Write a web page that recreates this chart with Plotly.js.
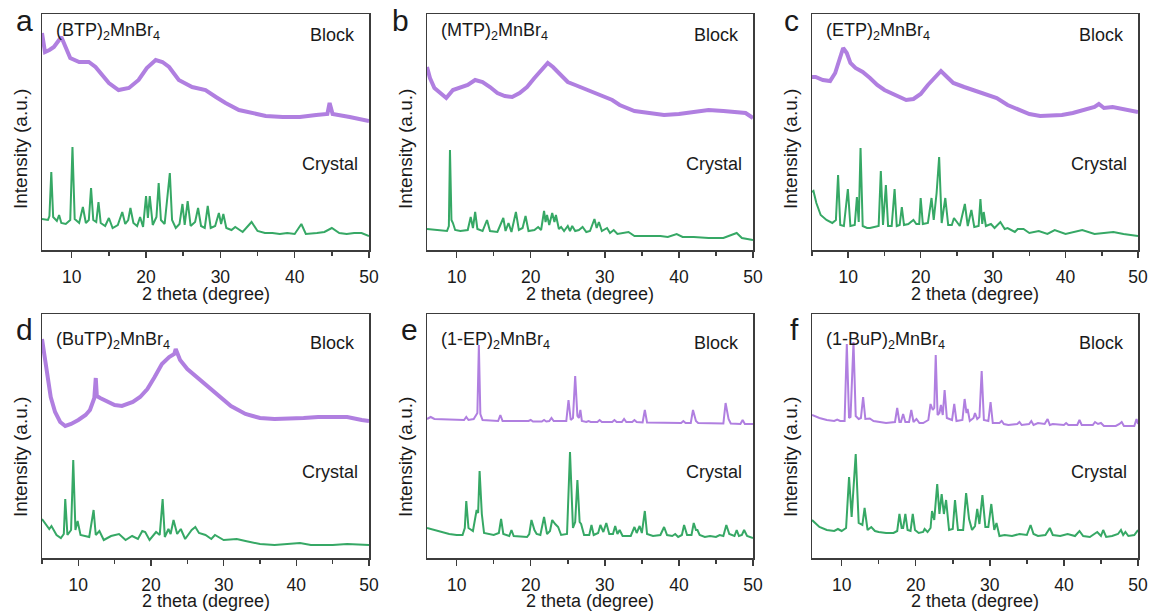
<!DOCTYPE html>
<html><head><meta charset="utf-8">
<script src="https://cdn.plot.ly/plotly-3.0.1.min.js"></script>
<style>html,body{margin:0;padding:0;background:#fff}#chart{width:1150px;height:612px}</style>
</head><body><div id="chart"></div>
<script>
// ---------- text ----------
const panelLabels = ['a','b','c','d','e','f'];
const compoundNames = ['(BTP)<sub>2</sub>MnBr<sub>4</sub>','(MTP)<sub>2</sub>MnBr<sub>4</sub>','(ETP)<sub>2</sub>MnBr<sub>4</sub>',
  '(BuTP)<sub>2</sub>MnBr<sub>4</sub>','(1-EP)<sub>2</sub>MnBr<sub>4</sub>','(1-BuP)<sub>2</sub>MnBr<sub>4</sub>'];
const seriesNames = ['Block','Crystal'];
const xTitle = '2 theta (degree)';
const yTitle = 'Intensity (a.u.)';
const xTickVals = [10,20,30,40,50];
const xMinorTickVals = [5,15,25,35,45];
const xRanges = [[6,50],[6,50],[5,50],[5,50],[6,50],[6,50]];

// ---------- data: [2theta, intensity (a.u.)] ----------
const blockA = [[6.0,217],[6.4,198],[7.0,200],[7.6,203],[8.6,213],[9.2,203],[9.8,192],[11.0,188],[12.3,188],[13.2,183],[15.0,167],[16.3,160],[17.7,162],[19.0,170],[20.1,182],[21.3,190],[22.2,188],[23.1,183],[24.4,170],[26.2,163],[28.0,160],[29.4,153],[30.7,147],[32.5,140],[34.3,137],[36.1,134],[38.4,133],[40.7,133],[42.9,135],[44.4,136],[44.7,147],[45.1,136],[47.4,133],[50.0,129]];
const crystalA = [[6,31],[6.8,30],[7.0,34],[7.25,78],[7.5,33],[8.0,29],[8.3,35],[8.6,27],[9.2,26],[9.8,30],[10.1,103],[10.4,31],[11.0,27],[11.5,43],[11.9,27],[12.3,30],[12.6,62],[12.9,30],[13.3,28],[13.6,48],[13.9,27],[14.5,24],[15.0,32],[15.5,22],[16.2,25],[16.8,38],[17.2,26],[17.6,30],[17.9,42],[18.3,27],[18.8,24],[19.2,33],[19.6,23],[20.0,54],[20.25,32],[20.5,54],[20.9,25],[21.4,33],[21.7,67],[22.0,30],[22.5,26],[23.0,60],[23.2,77],[23.5,30],[24.0,22],[24.5,26],[24.9,46],[25.2,25],[25.6,49],[26.0,24],[26.6,28],[27.0,42],[27.4,24],[27.9,22],[28.3,44],[28.7,22],[29.3,24],[29.8,37],[30.1,26],[30.4,36],[30.8,22],[31.5,20],[32.0,23],[33.0,18],[34.2,28],[35,19],[36,17],[37,17],[38,16],[39,17],[40,16],[40.9,26],[41.5,16],[43,17],[44,18],[45,22],[46,17],[47,16],[48,17],[49,17],[50,14]];

const blockB = [[6.0,183],[6.4,172],[7.0,162],[8.0,155],[8.6,152],[9.5,160],[10.5,162],[11.5,165],[12.5,170],[13.5,168],[14.5,163],[15.5,157],[16.5,154],[17.5,153],[18.5,157],[19.5,163],[20.5,172],[21.5,180],[22.3,187],[23.0,183],[24.0,175],[25.0,168],[26.0,165],[27.0,162],[28.0,159],[29.0,157],[30.0,153],[31.0,150],[32.0,145],[33.0,142],[34.0,139],[35.0,138],[36.0,137],[38.0,135],[40.0,136],[42.0,138],[44.0,140],[46.0,139],[48.0,138],[49.0,137],[50.0,132]];
const crystalB = [[6.0,21],[7.0,20],[8.0,19],[8.7,19],[8.95,24],[9.1,100],[9.3,30],[9.5,27],[9.8,20],[10.5,19],[11.5,20],[11.9,33],[12.2,22],[12.5,38],[12.8,21],[13.5,19],[14.1,30],[14.5,19],[15.5,18],[16.3,32],[16.6,19],[17.0,27],[17.4,18],[18.0,38],[18.4,20],[18.9,22],[19.3,34],[19.7,19],[20.5,20],[21.0,23],[21.4,20],[21.8,39],[22.0,28],[22.2,35],[22.5,25],[22.9,37],[23.2,28],[23.4,35],[23.8,21],[24.1,23],[24.5,19],[25.0,24],[25.3,19],[25.6,24],[26.0,19],[26.5,20],[27.0,23],[27.5,18],[28.0,19],[28.6,31],[28.9,22],[29.2,28],[29.6,19],[30.3,22],[30.7,17],[31.2,20],[31.7,16],[32.5,17],[33.2,18],[34,14],[35,14],[36,14],[37.5,14],[38.5,13],[39.7,16],[40.5,13],[42,13],[44,12],[46,12],[47.8,17],[48.5,12],[50,10]];

const blockC = [[5.0,173],[5.5,173],[6.5,170],[7.5,169],[8.2,177],[8.8,192],[9.3,202],[9.8,197],[10.3,187],[11.0,182],[12.0,178],[13.0,172],[14.0,165],[15.0,160],[16.0,157],[17.0,153],[18.0,150],[19.0,151],[20.0,156],[21.0,165],[22.0,173],[22.8,179],[23.5,174],[24.5,167],[26.0,163],[27.5,159],[29.0,156],[30.5,152],[32.0,145],[33.5,140],[35.0,136],[36.5,134],[38.0,134],[39.5,135],[41.0,137],[42.5,140],[44.0,143],[44.6,146],[45.3,142],[46.5,143],[48.0,141],[50.0,138]];
const crystalC = [[5.0,58],[5.2,59],[5.6,47],[6.2,35],[7.0,30],[7.8,27],[8.3,30],[8.6,75],[8.9,25],[9.4,24],[9.95,61],[10.3,24],[10.9,25],[11.2,53],[11.45,28],[11.7,102],[12.0,24],[12.6,22],[13.0,22],[13.5,23],[14.2,24],[14.5,79],[14.8,25],[15.2,65],[15.5,24],[16.0,24],[16.4,61],[16.7,24],[17.1,25],[17.4,43],[17.7,25],[18.3,26],[19.0,30],[19.4,26],[19.8,26],[20.0,52],[20.3,26],[21.0,27],[21.5,52],[21.8,30],[22.2,57],[22.55,93],[22.9,27],[23.4,52],[23.8,25],[24.3,25],[24.6,32],[24.9,29],[25.4,24],[26.1,46],[26.5,24],[27.0,40],[27.4,23],[28.0,24],[28.25,51],[28.5,26],[28.7,38],[29.0,24],[29.7,26],[30.2,22],[31.0,28],[31.6,21],[32.0,22],[33.0,18],[33.4,21],[34.2,21],[35,17],[36.3,19],[37.5,16],[38.5,20],[40,16],[42.3,20],[44,16],[46.6,18],[48,16],[50,14]];

const blockD = [[5.0,219],[5.3,203],[5.7,181],[6.2,161],[6.8,146],[7.5,136],[8.2,132],[9.0,134],[10.0,138],[11.0,143],[11.6,148],[12.2,160],[12.4,180],[12.55,162],[13.0,160],[14.0,157],[15.0,153],[16.0,152],[17.0,154],[17.5,156],[18.5,161],[19.5,169],[20.5,181],[21.5,194],[22.5,201],[23.2,204],[23.4,209],[23.7,202],[24.0,198],[25.0,189],[26.0,183],[27.0,176],[28.0,170],[29.0,164],[30.0,158],[31.0,152],[32.0,148],[33.0,144],[34.0,142],[35.0,140],[37.0,139],[39.0,139],[41.0,140],[43.0,141],[45.0,141],[47.0,141],[49.0,138],[50.0,137]];
const crystalD = [[5.0,39],[5.5,34],[6.0,29],[6.3,32],[7.0,23],[7.6,20],[8.0,24],[8.2,59],[8.5,23],[9.0,28],[9.3,98],[9.6,28],[9.9,37],[10.3,23],[11.5,21],[12.1,48],[12.4,23],[12.9,27],[13.5,18],[14.5,22],[15.6,24],[16.5,18],[17.4,22],[18.2,19],[18.8,27],[19.2,26],[19.8,18],[20.7,26],[21.2,23],[21.6,59],[21.9,21],[22.4,29],[22.7,24],[23.1,38],[23.6,24],[24.1,29],[24.7,19],[25.6,28],[26.1,31],[26.6,25],[27.5,23],[28.3,19],[28.8,23],[30.0,18],[31.8,19],[33.0,17],[35.0,14],[37.0,13],[40.5,15],[42.0,13],[45.0,13],[47.0,14],[50.0,13]];

const blockE = [[6.0,139],[6.5,141],[7.0,139],[10,138],[11,138],[11.3,141],[11.6,138],[12.3,139],[12.6,143],[12.8,145],[13.0,213],[13.2,144],[13.5,138],[15.6,137],[15.9,143],[16.2,137],[19.7,137],[20.0,138],[20.3,136.5],[21.5,136.5],[21.8,138],[22.1,136.5],[22.5,137],[22.8,140],[23.1,137],[24.8,137],[25.1,158],[25.4,138],[25.7,140],[26.0,182],[26.3,142],[26.5,140],[26.7,148],[26.9,137],[27.5,136],[27.8,137],[28.1,136],[29.0,136],[29.3,138],[29.6,136],[31.0,136],[31.3,138],[31.6,136],[32.3,136],[32.6,139],[32.9,136],[33.7,136],[34.0,138],[34.3,136],[35.1,135.5],[35.4,148],[35.7,135.5],[40.3,135],[40.6,137],[40.9,135],[41.6,135],[41.9,148],[42.3,137],[42.6,135],[46.0,134.5],[46.3,155],[46.7,139],[47.0,134.5],[48.3,134],[48.6,138],[48.9,134],[50.0,134]];
const crystalE = [[6,30],[7,28],[8,26],[9,24],[10,23],[10.8,23],[11.1,30],[11.3,57],[11.6,30],[12.2,27],[12.7,48],[12.9,45],[13.1,87],[13.4,44],[13.7,25],[15.0,23],[15.7,25],[16.0,39],[16.3,24],[17.1,22],[17.4,28],[17.7,22],[19.5,21],[19.8,24],[20.1,38],[20.5,28],[20.8,24],[21.3,23],[21.8,41],[22.2,24],[22.6,27],[22.9,38],[23.3,34],[23.7,31],[24.1,23],[24.9,24],[25.3,106],[25.7,30],[26.0,36],[26.3,78],[26.6,36],[26.8,34],[27.2,23],[27.9,23],[28.2,33],[28.5,23],[29.1,25],[29.4,33],[29.8,26],[30.2,35],[30.6,24],[31.1,24],[31.4,32],[31.7,24],[32.0,28],[32.4,22],[33.5,22],[34.0,31],[34.3,25],[34.7,32],[35.0,25],[35.4,47],[35.7,24],[36.5,22],[37.5,23],[38.0,31],[38.4,23],[39.1,22],[39.5,24],[39.9,21],[40.4,23],[40.7,33],[41.1,23],[41.7,23],[42.0,35],[42.3,28],[42.5,28],[42.8,23],[43.5,21],[44.2,22],[45.0,21],[45.5,23],[46.0,22],[46.4,33],[46.8,24],[47.5,22],[47.8,28],[48.1,22],[48.5,23],[48.8,28],[49.2,22],[50,20]];

const blockF = [[6,143],[7,140],[8,138],[9,137],[9.4,138.5],[9.8,137],[10.4,137],[10.7,214],[11.0,140],[11.2,141],[11.6,216],[11.9,142],[12.3,139],[12.6,140],[12.9,161],[13.2,139],[13.8,139.5],[14.3,137],[16.0,135],[17.2,136],[17.5,150],[17.8,136],[18.0,136],[18.3,144],[18.6,136],[19.1,136],[19.4,148],[19.7,136],[20.1,139],[20.5,135],[21.0,135],[21.7,138],[22.0,154],[22.3,148],[22.5,150],[22.7,203],[22.95,143],[23.2,145],[23.4,153],[23.65,143],[23.9,168],[24.2,140],[24.9,138],[25.2,154],[25.5,137],[26.3,138],[26.6,159],[26.85,145],[27.0,149],[27.3,137],[27.8,140],[28.0,145],[28.3,139],[28.6,141],[28.9,187],[29.2,138],[29.8,137],[30.1,156],[30.4,135],[31.3,135],[31.6,137],[31.9,134],[32.5,133],[33.7,134],[34.0,136],[34.3,133],[35.3,134],[35.6,137],[35.9,133],[36.5,135],[37.4,134],[37.8,139],[38.1,133],[38.5,134],[40.0,133],[40.3,135],[40.6,133],[41.8,133],[42.1,138],[42.4,133],[43.9,133],[44.2,136],[44.6,134],[45.0,135],[45.4,132],[47.0,132],[47.5,134],[47.8,136],[48.1,132],[49.5,132],[49.8,139],[50,134]];
const crystalF = [[6,38],[6.5,34],[7,31],[8,28],[9,27],[9.5,29],[10,27],[10.6,30],[11.0,81],[11.35,41],[11.9,104],[12.3,35],[12.8,33],[13.1,50],[13.5,28],[14.0,31],[14.5,27],[15,26],[16,25],[17,25],[17.5,27],[17.8,44],[18.1,30],[18.3,30],[18.6,44],[18.9,28],[19.3,27],[19.6,44],[19.9,28],[20.4,25],[21.0,26],[21.2,29],[21.6,26],[22.0,30],[22.2,47],[22.5,38],[22.9,74],[23.2,44],[23.5,64],[23.8,44],[24.1,58],[24.5,28],[25.0,29],[25.3,58],[25.7,28],[26.4,28],[26.8,65],[27.2,39],[27.6,28],[28.0,32],[28.3,49],[28.6,34],[29.0,63],[29.4,31],[29.8,31],[30.2,54],[30.6,28],[30.9,35],[31.3,22],[32,23],[33,22],[34,24],[35,23],[35.5,33],[35.9,24],[36.5,22],[37.5,23],[38.1,30],[38.5,23],[39.5,22],[40.5,24],[41.5,22],[42.1,27],[42.6,22],[43.5,21],[44.5,26],[45.0,22],[45.3,28],[45.7,21],[46.5,22],[47.3,24],[47.7,28],[48.0,23],[48.3,26],[48.7,22],[49.5,23],[50,28]];

const blockSeries = [blockA, blockB, blockC, blockD, blockE, blockF];
const crystalSeries = [crystalA, crystalB, crystalC, crystalD, crystalE, crystalF];

// ---------- layout (pixel geometry) ----------
const W = 1150, H = 612;
const fx = p => p / W, fy = p => 1 - p / H;
const frames = [
  {l:42,r:369,t:14,b:250},{l:427,r:753,t:14,b:250},{l:812,r:1138,t:14,b:250},
  {l:42,r:369,t:314,b:558},{l:427,r:753,t:314,b:558},{l:812,r:1138,t:314,b:558}];
const labelX = [24,400,791,24,409,794];
const yTitleX = [20,405,790,20,405,790];
const PURPLE = '#b07fe0', GREEN = '#36a865', AX = '#3c3c3c';
const blockWidth = [4,4,4,4,2,2];
const FONT = 'Liberation Sans, Arial, sans-serif';

const traces = [], annotations = [];
const layout = {width:W, height:H, margin:{l:0,r:0,t:0,b:0}, showlegend:false,
  paper_bgcolor:'#fff', plot_bgcolor:'#fff', font:{family:FONT, color:'#1a1a1a'}};

frames.forEach((f, i) => {
  const n = i + 1, xa = 'xaxis' + (n === 1 ? '' : n), ya = 'yaxis' + (n === 1 ? '' : n);
  const xr = 'x' + (n === 1 ? '' : n), yr = 'y' + (n === 1 ? '' : n);
  layout[xa] = {domain:[fx(f.l), fx(f.r)], anchor:yr, range:xRanges[i],
    showline:true, mirror:true, linecolor:AX, linewidth:1.5, showgrid:false, zeroline:false,
    ticks:'outside', ticklen:6, tickwidth:1.5, tickcolor:AX, tickmode:'array', tickvals:xTickVals,
    ticklabelstandoff:4,
    minor:{tickmode:'array', tickvals:xMinorTickVals, ticks:'outside', ticklen:4, tickwidth:1.5, tickcolor:AX, showgrid:false},
    tickfont:{size:17.5, color:'#1a1a1a', family:FONT}, fixedrange:true};
  layout[ya] = {domain:[fy(f.b), fy(f.t)], anchor:xr, range:[0, f.b - f.t],
    showline:true, mirror:true, linecolor:AX, linewidth:1.5, showgrid:false, zeroline:false,
    showticklabels:false, ticks:'', fixedrange:true};
  traces.push({type:'scatter', mode:'lines', name:seriesNames[0], xaxis:xr, yaxis:yr,
    x:blockSeries[i].map(p=>p[0]), y:blockSeries[i].map(p=>p[1]),
    line:{color:PURPLE, width:blockWidth[i]}});
  traces.push({type:'scatter', mode:'lines', name:seriesNames[1], xaxis:xr, yaxis:yr,
    x:crystalSeries[i].map(p=>p[0]), y:crystalSeries[i].map(p=>p[1]),
    line:{color:GREEN, width:2}});
  const top = f.t === 14;
  const ann = (text, x, y, size, xanchor, extra) => annotations.push(Object.assign({
    text, x:fx(x), y:fy(y), xref:'paper', yref:'paper', showarrow:false, xanchor, yanchor:'middle',
    font:{size, family:FONT, color:'#1a1a1a'}}, extra||{}));
  ann(panelLabels[i], labelX[i], top ? 21 : 329, 30, 'center');
  ann(compoundNames[i], f.l + 12, top ? 31 : 340, 18, 'left');
  ann(seriesNames[0], f.r - 12, top ? 35 : 343, 18, 'right');
  ann(seriesNames[1], f.r - 9, top ? 164 : 472, 18, 'right');
  ann(xTitle, (f.l + f.r) / 2, top ? 294 : 601, 18, 'center');
  ann(yTitle, yTitleX[i], top ? 149 : 457, 19, 'center', {textangle:-90});
});
layout.annotations = annotations;
Plotly.newPlot('chart', traces, layout, {staticPlot:true, displayModeBar:false});
</script>
</body></html>
